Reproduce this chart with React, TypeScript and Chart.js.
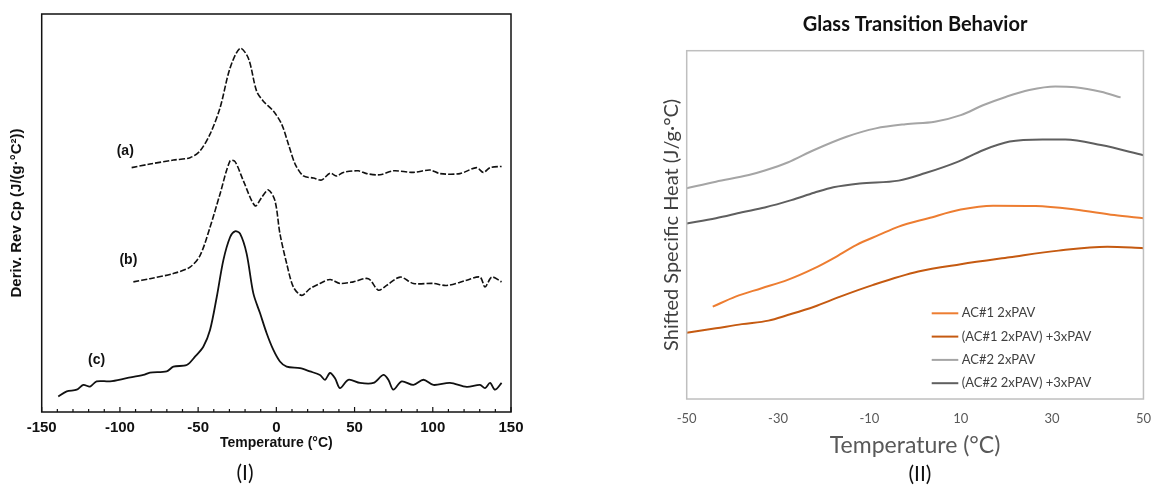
import React, { useEffect, useRef } from "react";
import { Chart, registerables } from "chart.js";
Chart.register(...registerables);

// ---------- Chart (I): Deriv. Rev Cp ----------
const tempA = [-92.5, -80.8, -65.8, -55.2, -48.8, -42.4, -36, -29.6, -23.2, -17.9, -12.6, -8.3, -1.9, 3.4, 7.7, 12, 17.3, 23.7, 29, 34.3, 38.6, 42.8, 52.4, 57.7, 66.3, 74.8, 87.6, 98.2, 104.6, 117.4, 128, 132.3, 136.6, 144];
const cpA = [61.4, 62.3, 63.3, 63.9, 65.6, 69.8, 76.4, 86.4, 91.4, 88.9, 80.6, 78.1, 75.6, 72.3, 67.3, 62.3, 59.3, 58.8, 58.3, 60, 59.3, 60.2, 60.6, 59.9, 59.6, 60.6, 60.2, 60.8, 59.9, 59.9, 61.4, 60.2, 61.4, 61.7];

const tempB = [-91.4, -80.8, -65.8, -55.2, -48.8, -42.4, -36, -29.6, -26.4, -21.1, -13.6, -9.4, -5.1, -0.9, 2.3, 6.6, 10.9, 16.2, 21.5, 27.9, 34.3, 40.7, 49.2, 58.8, 65.2, 70.5, 79.1, 87.6, 100.4, 108.9, 121.7, 130.2, 133.4, 137.7, 144];
const cpB = [32.7, 33.5, 34.8, 36.4, 39.3, 46.4, 54.8, 63.1, 62.9, 58.1, 51.8, 53.9, 55.8, 53.1, 44.8, 37.3, 31.4, 29.3, 31, 32.3, 33.3, 32.3, 32.7, 33.5, 30.6, 31.8, 33.9, 32.3, 32.3, 31.8, 33.1, 33.9, 31.4, 33.9, 32.7];

const tempC = [-139.4, -134, -127.6, -123.4, -119.1, -114.9, -106.3, -95.7, -85, -80.8, -70.1, -65.8, -57.3, -52, -46.7, -42.4, -38.1, -33.9, -29.6, -26.4, -23.2, -19, -14.7, -10.4, -6.2, -1.9, 2.3, 6.6, 15.1, 21.5, 27.9, 31.1, 34.3, 37.5, 40.7, 46, 53.5, 62, 68.4, 71.6, 74.8, 80.1, 87.6, 94, 100.4, 111, 121.7, 130.2, 133.4, 136.6, 139.8, 144];
const cpC = [3.9, 5.2, 5.6, 6.8, 6.4, 7.7, 7.7, 8.5, 9.3, 9.9, 10.2, 11.4, 11.8, 13.9, 16.4, 20.6, 28.9, 38.1, 43.9, 45.4, 44.8, 39.8, 29.8, 24.8, 19.8, 15.6, 12.7, 11.4, 11, 10.2, 9.3, 8.1, 9.8, 8.5, 6, 8.1, 7.3, 7.3, 9.3, 8.1, 5.6, 7.7, 6.8, 8.1, 6.8, 7.3, 6.3, 6.8, 6, 7.3, 5.6, 7.3];

const curveLabels = ["(a)", "(b)", "(c)"];
const curveLabelTemps = [-96.6, -94.6, -114.9];
const curveLabelCps = [65.6, 38.1, 13.1];

const xTicksI = [-150, -100, -50, 0, 50, 100, 150];

// ---------- Chart (II): Shifted Specific Heat ----------
const seriesNames = ["AC#1 2xPAV", "(AC#1 2xPAV) +3xPAV", "AC#2 2xPAV", "(AC#2 2xPAV) +3xPAV"];
const seriesColors = ["#ED7D31", "#C55A11", "#A5A5A5", "#5F5F5F"];

const temp1 = [-44.3, -39.3, -33.6, -27.9, -22.1, -17.9, -12.9, -7.9, -3.6, 2.9, 10, 17.1, 26.4, 35, 43.6, 50];
const heat1 = [26.5, 29.4, 31.8, 34.2, 37.5, 40.4, 44.2, 47.1, 49.5, 51.9, 54.4, 55.5, 55.4, 54.4, 52.8, 51.9];

const temp2 = [-50, -43.6, -37.9, -32.1, -27.9, -22.1, -16.4, -9.3, 0.7, 10, 20.7, 31.4, 42.1, 50];
const heat2 = [19, 20.3, 21.5, 22.5, 24.1, 26.5, 29.4, 32.7, 36.6, 38.7, 40.7, 42.6, 43.7, 43.3];

const temp3 = [-50, -43.6, -36.4, -32.9, -27.9, -22.1, -15, -8.6, -2.1, 4.3, 10, 15, 20, 25, 30.7, 35, 40.7, 45];
const heat3 = [60.5, 62.4, 64.3, 65.6, 67.9, 71.5, 75.3, 77.7, 78.9, 79.6, 81.5, 84.4, 86.8, 88.7, 89.7, 89.5, 88.2, 86.6];

const temp4 = [-50, -43.6, -37.9, -32.9, -27.1, -22.1, -17.9, -12.1, -3.6, 2.1, 9.3, 15, 20.7, 27.9, 32.9, 40.7, 50];
const heat4 = [50.4, 51.9, 53.6, 55, 57.1, 59.2, 60.8, 61.9, 62.7, 64.8, 68.1, 71.5, 73.9, 74.5, 74.5, 72.9, 70];

const xTicksII = [-50, -30, -10, 10, 30, 50];

const pts = (xs: number[], ys: number[]) => xs.map((x, i) => ({ x, y: ys[i] }));

const frameTicksPlugin = {
  id: "frameTicksI",
  afterDatasetsDraw(chart: any) {
    const { ctx, chartArea: a, scales } = chart;
    const x = scales.x;
    const y = scales.y;
    ctx.save();
    ctx.strokeStyle = "#111";
    ctx.lineWidth = 1.5;
    ctx.strokeRect(a.left, a.top, a.right - a.left, a.bottom - a.top);
    ctx.lineWidth = 1.2;
    for (let v = -150; v <= 150; v += 10) {
      const px = x.getPixelForValue(v);
      const len = xTicksI.includes(v) ? 5 : 3;
      ctx.beginPath();
      ctx.moveTo(px, a.bottom);
      ctx.lineTo(px, a.bottom - len);
      ctx.stroke();
    }
    ctx.fillStyle = "#111";
    ctx.font = "bold 14px 'Liberation Sans', Arial, sans-serif";
    ctx.textAlign = "center";
    ctx.textBaseline = "middle";
    curveLabels.forEach((t, i) => {
      ctx.fillText(t, x.getPixelForValue(curveLabelTemps[i]), y.getPixelForValue(curveLabelCps[i]));
    });
    ctx.restore();
  },
};

const frameLegendPlugin = {
  id: "frameLegendII",
  afterDatasetsDraw(chart: any) {
    const { ctx, chartArea: a } = chart;
    ctx.save();
    ctx.strokeStyle = "#BFBFBF";
    ctx.lineWidth = 1.5;
    ctx.strokeRect(a.left, a.top, a.right - a.left, a.bottom - a.top);
    ctx.font = "13px Lato, 'Open Sans', sans-serif";
    ctx.textBaseline = "middle";
    ctx.textAlign = "left";
    const x0 = a.left + 245;
    const y0 = a.top + 262.6;
    seriesNames.forEach((name, i) => {
      const yy = y0 + i * 23.3;
      ctx.strokeStyle = seriesColors[i];
      ctx.lineWidth = 2;
      ctx.beginPath();
      ctx.moveTo(x0, yy);
      ctx.lineTo(x0 + 26.6, yy);
      ctx.stroke();
      ctx.fillStyle = "#404040";
      ctx.fillText(name, x0 + 30, yy);
    });
    ctx.restore();
  },
};

export default function App() {
  const ref1 = useRef<HTMLCanvasElement>(null);
  const ref2 = useRef<HTMLCanvasElement>(null);

  useEffect(() => {
    const c1 = new Chart(ref1.current as HTMLCanvasElement, {
      type: "line",
      data: {
        datasets: [
          { label: "(a)", data: pts(tempA, cpA), borderColor: "#111", borderWidth: 1.6, borderDash: [6, 2], pointRadius: 0, tension: 0.3, fill: false },
          { label: "(b)", data: pts(tempB, cpB), borderColor: "#111", borderWidth: 1.6, borderDash: [6, 2], pointRadius: 0, tension: 0.3, fill: false },
          { label: "(c)", data: pts(tempC, cpC), borderColor: "#111", borderWidth: 1.8, pointRadius: 0, tension: 0.3, fill: false },
        ],
      },
      options: {
        animation: false,
        responsive: false,
        layout: { padding: { left: 8, right: 129, top: 14, bottom: 0 } },
        plugins: { legend: { display: false }, tooltip: { enabled: false } },
        scales: {
          x: {
            type: "linear",
            min: -150,
            max: 150,
            afterBuildTicks: (s: any) => { s.ticks = xTicksI.map((v) => ({ value: v })); },
            ticks: { font: { size: 15, weight: "bold", family: "'Liberation Sans', Arial, sans-serif" }, color: "#111", padding: 7, maxRotation: 0 },
            grid: { display: false, drawTicks: false },
            border: { display: false },
            title: { display: true, text: "Temperature (°C)", font: { size: 14, weight: "bold", family: "'Liberation Sans', Arial, sans-serif" }, color: "#111", padding: { top: 0, bottom: 33.6 } },
            afterFit: (s: any) => { s.height = 73; },
          },
          y: {
            type: "linear",
            min: 0,
            max: 100,
            ticks: { display: false },
            grid: { display: false, drawTicks: false },
            border: { display: false },
            title: { display: true, text: "Deriv. Rev Cp (J/(g·°C²))", font: { size: 15, weight: "bold", family: "'Liberation Sans', Arial, sans-serif" }, color: "#111", padding: 0 },
            afterFit: (s: any) => { s.width = 33.7; },
          },
        },
      } as any,
      plugins: [frameTicksPlugin],
    });

    const c2 = new Chart(ref2.current as HTMLCanvasElement, {
      type: "line",
      data: {
        datasets: [
          { label: seriesNames[0], data: pts(temp1, heat1), borderColor: seriesColors[0], borderWidth: 2, pointRadius: 0, cubicInterpolationMode: "monotone", fill: false },
          { label: seriesNames[1], data: pts(temp2, heat2), borderColor: seriesColors[1], borderWidth: 2, pointRadius: 0, cubicInterpolationMode: "monotone", fill: false },
          { label: seriesNames[2], data: pts(temp3, heat3), borderColor: seriesColors[2], borderWidth: 2, pointRadius: 0, cubicInterpolationMode: "monotone", fill: false },
          { label: seriesNames[3], data: pts(temp4, heat4), borderColor: seriesColors[3], borderWidth: 2, pointRadius: 0, cubicInterpolationMode: "monotone", fill: false },
        ],
      },
      options: {
        animation: false,
        responsive: false,
        layout: { padding: { left: 20, right: 9.7, top: 0, bottom: 0 } },
        plugins: {
          legend: { display: false },
          tooltip: { enabled: false },
          title: {
            display: true,
            fullSize: false,
            text: "Glass Transition Behavior",
            font: { size: 20, weight: "bold", family: "Lato, 'Open Sans', sans-serif" },
            color: "#111",
            padding: { top: 13, bottom: 13.7 },
          },
        },
        scales: {
          x: {
            type: "linear",
            min: -50,
            max: 50,
            afterBuildTicks: (s: any) => { s.ticks = xTicksII.map((v) => ({ value: v })); },
            ticks: { font: { size: 13, family: "Lato, 'Open Sans', sans-serif" }, color: "#595959", padding: 12, maxRotation: 0 },
            grid: { display: false, drawTicks: false },
            border: { display: false },
            title: { display: true, text: "Temperature (°C)", font: { size: 23, family: "Lato, 'Open Sans', sans-serif" }, color: "#595959", padding: { top: 0, bottom: 26 } },
            afterFit: (s: any) => { s.height = 86; },
          },
          y: {
            type: "linear",
            min: 0,
            max: 100,
            ticks: { display: false },
            grid: { display: false, drawTicks: false },
            border: { display: false },
            title: { display: true, text: "Shifted Specific Heat (J/g·°C)", font: { size: 20, family: "Lato, 'Open Sans', sans-serif" }, color: "#404040", padding: 0 },
            afterFit: (s: any) => { s.width = 26.7; },
          },
        },
      } as any,
      plugins: [frameLegendPlugin],
    });

    return () => {
      c1.destroy();
      c2.destroy();
    };
  }, []);

  const capStyle: React.CSSProperties = {
    position: "absolute",
    transform: "translate(-50%, -50%)",
    fontFamily: "Lato, 'Open Sans', sans-serif",
    fontSize: 21,
    color: "#111",
    lineHeight: 1,
    whiteSpace: "nowrap",
  };

  return (
    <div style={{ position: "fixed", left: 0, top: 0, width: 1163, height: 485, background: "#fff", overflow: "hidden" }}>
      <canvas ref={ref1} width={640} height={485} style={{ position: "absolute", left: 0, top: 0 }} />
      <canvas ref={ref2} width={523} height={485} style={{ position: "absolute", left: 640, top: 0 }} />
      <div style={{ ...capStyle, left: 245, top: 471 }}>(I)</div>
      <div style={{ ...capStyle, left: 920, top: 472 }}>(II)</div>
    </div>
  );
}
